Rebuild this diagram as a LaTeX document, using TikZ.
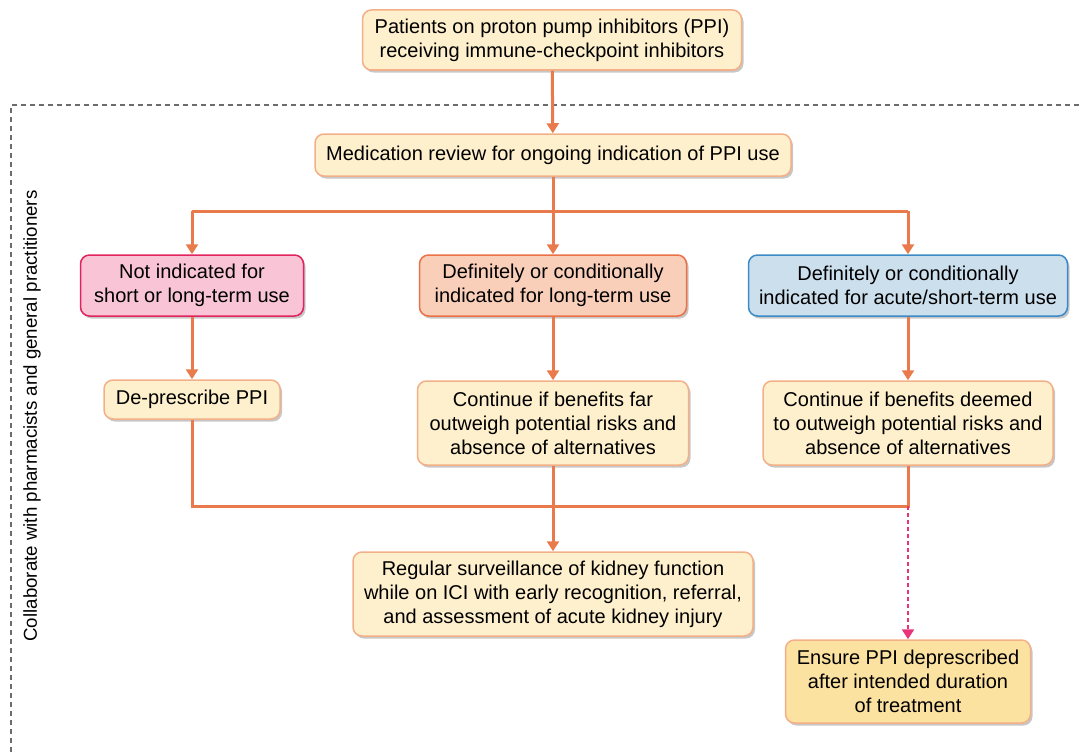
\documentclass[tikz,border=0pt]{standalone}
\usepackage{fontspec}
\setmainfont{Liberation Sans}
\usetikzlibrary{shapes,arrows.meta,positioning,shadows}

\definecolor{lineorange}{HTML}{E97A4B}
\definecolor{boxedge}{HTML}{F3B088}
\definecolor{boxfill}{HTML}{FEF0CC}
\definecolor{ensurefill}{HTML}{FCE2A0}
\definecolor{pinkfill}{HTML}{F8C4D6}
\definecolor{pinkedge}{HTML}{E2245E}
\definecolor{salmonfill}{HTML}{F9CFBA}
\definecolor{salmonedge}{HTML}{EB7246}
\definecolor{bluefill}{HTML}{CCDFED}
\definecolor{blueedge}{HTML}{3C8AC6}
\definecolor{dotpink}{HTML}{E8357A}

\begin{document}
\begin{tikzpicture}[x=1pt, y=-1pt, thick]
        \tikzstyle{block} = [rectangle, draw=boxedge, fill=boxfill, line width=1.5pt, align=center, rounded corners=9pt, inner sep=2pt,
            font=\fontsize{20}{24}\selectfont, drop shadow={shadow xshift=2pt, shadow yshift=-2.5pt, opacity=0.22, fill=black}]
        \tikzstyle{line} = [draw=lineorange, line width=3pt, -{Triangle[length=10pt,width=12pt]}]
        \tikzstyle{plain} = [draw=lineorange, line width=3pt]
        \useasboundingbox (0,0) rectangle (1081,752);

        % Collaboration frame
        \draw [gray!85!black, line width=1.2pt, dash pattern=on 5pt off 4pt] (11,752) -- (11,105) -- (1081,105);
        \node [rotate=90, font=\fontsize{18.7}{24}\selectfont] (collab) at (32,416) {Collaborate with pharmacists and general practitioners};

        \node [block, minimum width=379pt, minimum height=60pt] (start) at (552,40) {Patients on proton pump inhibitors (PPI)\\receiving immune-checkpoint inhibitors};
        \node [block, minimum width=476pt, minimum height=42pt] (review) at (553,155) {Medication review for ongoing indication of PPI use};

        \node [block, fill=pinkfill, draw=pinkedge, minimum width=223pt, minimum height=61pt] (notind) at (192,285.5) {Not indicated for\\short or long-term use};
        \node [block, fill=salmonfill, draw=salmonedge, minimum width=267pt, minimum height=61pt] (longterm) at (553,285.5) {Definitely or conditionally\\indicated for long-term use};
        \node [block, fill=bluefill, draw=blueedge, minimum width=319pt, minimum height=61pt] (acute) at (908,285.5) {Definitely or conditionally\\indicated for acute/short-term use};

        \node [block, minimum width=176pt, minimum height=39pt] (deprescribe) at (192,399.5) {De-prescribe PPI};
        \node [block, minimum width=271pt, minimum height=84pt] (contlong) at (553,423) {Continue if benefits far\\outweigh potential risks and\\absence of alternatives};
        \node [block, minimum width=290pt, minimum height=84pt] (contacute) at (908,423) {Continue if benefits deemed\\to outweigh potential risks and\\absence of alternatives};

        \node [block, minimum width=400pt, minimum height=84pt] (surveil) at (553,594) {Regular surveillance of kidney function\\while on ICI with early recognition, referral,\\and assessment of acute kidney injury};
        \node [block, fill=ensurefill, minimum width=245pt, minimum height=83pt] (ensure) at (908,681.5) {Ensure PPI deprescribed\\after intended duration\\of treatment};

        \coordinate (split) at (553,211);
        \coordinate (merge) at (553,506);

        \path [line] (start) -- (review);
        \draw [plain] (review) -- (split);
        \draw [plain] (notind.north |- split) -- (acute.north |- split);
        \path [line] (split -| notind.north) -- (notind);
        \path [line] (split) -- (longterm);
        \path [line] (split -| acute.north) -- (acute);

        \path [line] (notind) -- (deprescribe);
        \path [line] (longterm) -- (contlong);
        \path [line] (acute) -- (contacute);

        % Merge back
        \draw [plain] (deprescribe.south) -- (deprescribe.south |- merge) -- (contacute.south |- merge) -- (contacute.south);
        \draw [plain] (contlong) -- (merge);
        \path [line] (merge) -- (surveil);
        \draw [dotpink, line width=2.8pt, dash pattern=on 4pt off 3pt, -{Triangle[length=10pt,width=12pt]}] (contacute.south |- merge) -- (ensure);
    \end{tikzpicture}
\end{document}
